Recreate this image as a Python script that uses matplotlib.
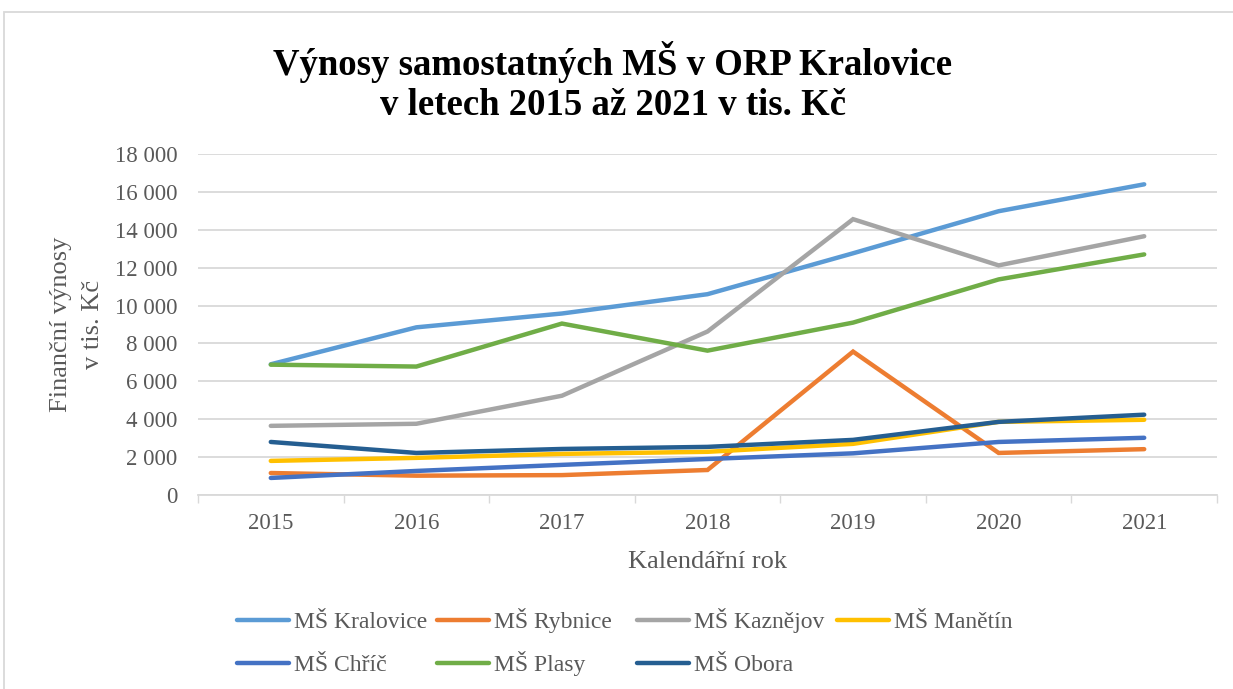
import matplotlib.pyplot as plt
import matplotlib.patches as patches
from matplotlib.lines import Line2D
from matplotlib.ticker import FuncFormatter, FixedLocator
import numpy as np

years = ["2015", "2016", "2017", "2018", "2019", "2020", "2021"]
kralovice = [6900, 8850, 9580, 10600, 12760, 14980, 16400]
rybnice = [1160, 1020, 1050, 1320, 7570, 2220, 2420]
kaznejov = [3650, 3760, 5240, 8630, 14560, 12120, 13660]
manetin = [1800, 1960, 2170, 2280, 2700, 3860, 3970]
chric = [900, 1270, 1590, 1900, 2200, 2800, 3020]
plasy = [6880, 6780, 9050, 7620, 9100, 11380, 12700]
obora = [2800, 2220, 2430, 2540, 2910, 3860, 4240]

series = [
    ("MŠ Kralovice", kralovice, "#5B9BD5"),
    ("MŠ Rybnice", rybnice, "#ED7D31"),
    ("MŠ Kaznějov", kaznejov, "#A5A5A5"),
    ("MŠ Manětín", manetin, "#FFC000"),
    ("MŠ Chříč", chric, "#4472C4"),
    ("MŠ Plasy", plasy, "#70AD47"),
    ("MŠ Obora", obora, "#255E91"),
]

plt.rcParams['font.family'] = ['Liberation Serif', 'DejaVu Serif']
grey = "#595959"
light = "#D9D9D9"
W, H = 1233, 689

fig = plt.figure(figsize=(12.33, 6.89), dpi=100)
ax = fig.add_axes([198/W, 1-495/H, (1217-198)/W, (495-154)/H])

x = np.arange(len(years))
lines = []
for name, vals, col in series:
    ln, = ax.plot(x, vals, color=col, lw=3.2, solid_capstyle='round', solid_joinstyle='miter', label=name)
    lines.append(ln)

ax.set_xlim(-0.5, len(years) - 0.5)
ax.set_ylim(0, 18000)
ax.set_yticks(np.arange(0, 18001, 2000))
ax.yaxis.set_major_formatter(FuncFormatter(lambda v, p: f"{v:,.0f}".replace(",", " ")))
ax.set_xticks(x)
ax.set_xticklabels(years)
ax.xaxis.set_minor_locator(FixedLocator(np.arange(-0.5, len(years), 1)))
ax.tick_params(axis='x', which='major', length=0, pad=13, labelsize=16.5, labelcolor=grey)
ax.tick_params(axis='x', which='minor', length=6, width=1, color=light)
ax.tick_params(axis='y', length=0, pad=15, labelsize=16.5, labelcolor=grey)
ax.grid(axis='y', color=light, lw=1.3)
ax.set_axisbelow(True)
for s in ['top', 'right', 'left']:
    ax.spines[s].set_visible(False)
ax.spines['bottom'].set_color(light)
ax.spines['bottom'].set_linewidth(1.3)

fig.text(0.497, 1-82/H, "Výnosy samostatných MŠ v ORP Kralovice\nv letech 2015 až 2021 v tis. Kč",
         ha='center', va='center', fontsize=26.5, fontweight='bold', linespacing=1.2)
fig.text(707/W, 1-562/H, "Kalendářní rok", ha='center', va='center', fontsize=19, color=grey)
fig.text(77/W, 1-324/H, "Finanční výnosy\nv tis. Kč", ha='center', va='center',
         rotation=90, fontsize=19, color=grey, linespacing=1.55)

# legend on a fixed grid like Excel: 4 entries per row
for i, ln in enumerate(lines):
    row, col = divmod(i, 4)
    lx = 235 + 200 * col
    ly = 620 + 43 * row
    fig.add_artist(Line2D([(lx + 2)/W, (lx + 54)/W], [1-ly/H, 1-ly/H], transform=fig.transFigure,
                          color=ln.get_color(), lw=ln.get_linewidth(), solid_capstyle='round'))
    fig.text((lx + 59)/W, 1-(ly + 8)/H, ln.get_label(), ha='left', va='baseline',
             fontsize=17, color=grey)

fig.patches.append(patches.Rectangle((4/W, -0.01), 1.0, 1-12/H+0.01, transform=fig.transFigure,
                                     fill=False, edgecolor=light, lw=1.3))

fig.savefig("out.png", dpi=100)
